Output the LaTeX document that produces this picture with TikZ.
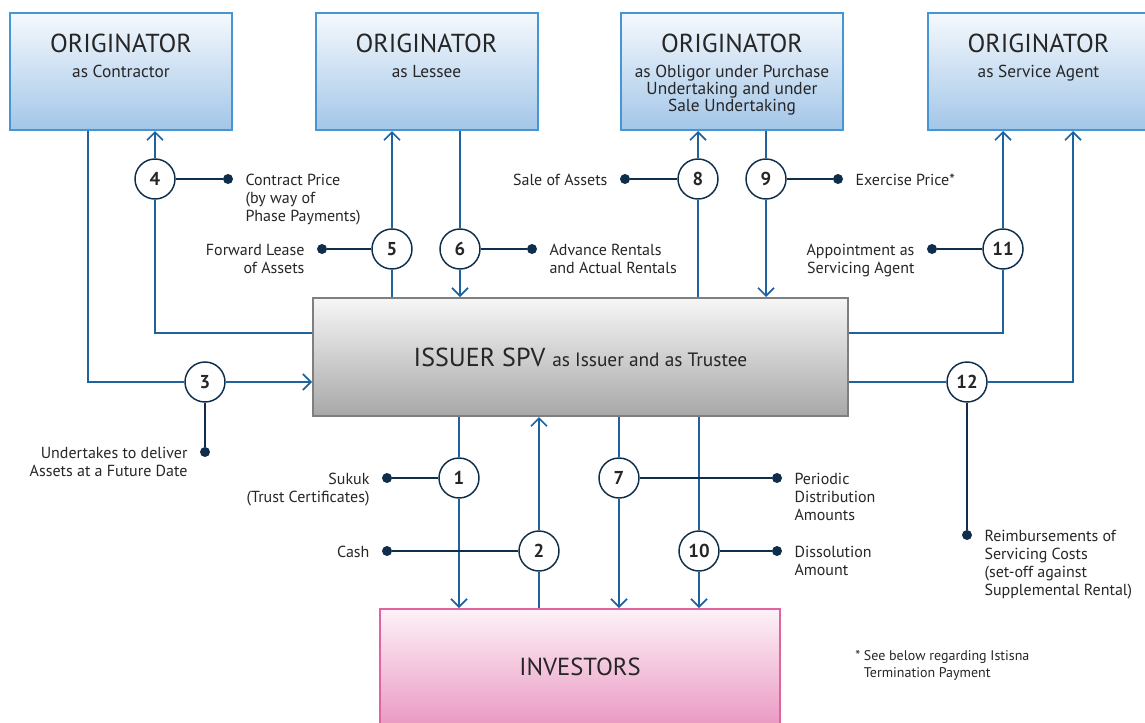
\documentclass[tikz,border=0pt]{standalone}
\usepackage{fontspec}
\setmainfont{PT Sans}
\usepackage{xcolor}
\usepackage{tikz}
\usetikzlibrary{positioning, arrows.meta}

\definecolor{origline}{HTML}{4696D6}
\definecolor{origtop}{HTML}{F5F9FD}
\definecolor{origbot}{HTML}{A3C6E8}
\definecolor{spvline}{HTML}{7F7F7F}
\definecolor{spvtop}{HTML}{F6F6F6}
\definecolor{spvbot}{HTML}{A8A8A8}
\definecolor{invline}{HTML}{E0649F}
\definecolor{invtop}{HTML}{FDF1F7}
\definecolor{invbot}{HTML}{EA9AC3}
\definecolor{flowblue}{HTML}{1E63A0}
\definecolor{calldark}{HTML}{0F2E4C}
\definecolor{txtgray}{HTML}{262626}

\newcommand{\lblsize}{\fontsize{12}{13.5}\selectfont}

\begin{document}
\begin{tikzpicture}[x=0.75pt, y=-0.75pt,
    origbox/.style={draw=origline, line width=1.5pt, top color=origtop, bottom color=origbot,
        minimum width=166.5pt, minimum height=87.75pt, inner sep=0pt},
    spvbox/.style={draw=spvline, line width=1.5pt, top color=spvtop, bottom color=spvbot,
        minimum width=401pt, minimum height=88.5pt, text=txtgray},
    invbox/.style={draw=invline, line width=1.5pt, top color=invtop, bottom color=invbot,
        minimum width=300pt, minimum height=87pt, text=txtgray,
        font=\fontsize{18.5}{20}\selectfont},
    ttl/.style={inner sep=0pt, text=txtgray, font=\fontsize{19.5}{21}\selectfont},
    sub/.style={inner sep=0pt, text=txtgray, align=center, font=\fontsize{13}{12.75}\selectfont},
    num/.style={circle, draw=calldark, line width=1.1pt, fill=white, minimum size=30pt,
        inner sep=0pt, text=txtgray, font=\fontsize{14}{14}\selectfont\bfseries},
    dot/.style={circle, fill=calldark, minimum size=7.5pt, inner sep=0pt},
    flow/.style={draw=flowblue, line width=1.3pt},
    tip/.style={-{Straight Barb[length=6pt, width=12pt]}},
    call/.style={draw=calldark, line width=1.1pt},
    lblR/.style={anchor=north west, yshift=4pt, inner sep=0pt, align=left, text=txtgray, font=\lblsize},
    lblL/.style={anchor=north east, yshift=4pt, inner sep=0pt, align=right, text=txtgray, font=\lblsize}
]
\useasboundingbox (0,0) rectangle (1145,722);

% parties
\node[origbox] (orgA) at (121,71.5) {};
\node[origbox] (orgB) at (426.5,71.5) {};
\node[origbox] (orgC) at (732,71.5) {};
\node[origbox] (orgD) at (1038.5,71.5) {};
\node[spvbox] (spv) at (580.5,357)
    {\fontsize{19.5}{21}\selectfont ISSUER SPV {\fontsize{14.5}{16}\selectfont as Issuer and as Trustee}};
\node[invbox] (inv) at (580,667) {INVESTORS};

\foreach \b in {A,B,C,D}
    \node[ttl, below=16pt of org\b.north] (t\b) {ORIGINATOR};
\node[sub, below=9pt of tA] (sA) {as Contractor};
\node[sub, below=9pt of tB] (sB) {as Lessee};
\node[sub, below=9pt of tC] (sC) {as Obligor under Purchase\\Undertaking and under\\Sale Undertaking};
\node[sub, below=9pt of tD] (sD) {as Service Agent};

% numbered steps
\node[num] (n1) at (459,478) {1};
\node[num] (n2) at (539,551) {2};
\node[num] (n3) at (205,382) {3};
\node[num] (n4) at (155,179) {4};
\node[num] (n5) at (392,249) {5};
\node[num] (n6) at (460,249) {6};
\node[num] (n7) at (619,478) {7};
\node[num] (n8) at (698,179) {8};
\node[num] (n9) at (766,179) {9};
\node[num] (n10) at (699,551) {10};
\node[num] (n11) at (1003,249) {11};
\node[num] (n12) at (967,382) {12};

\node[dot] (d1) at (387,478) {};
\node[dot] (d2) at (387,551) {};
\node[dot] (d3) at (205,452) {};
\node[dot] (d4) at (228,179) {};
\node[dot] (d5) at (322,249) {};
\node[dot] (d6) at (532,249) {};
\node[dot] (d7) at (777,478) {};
\node[dot] (d8) at (625,179) {};
\node[dot] (d9) at (838,179) {};
\node[dot] (d10) at (777,551) {};
\node[dot] (d11) at (932,249) {};
\node[dot] (d12) at (967,535) {};

\coordinate (j3) at (88,382);
\coordinate (j4) at (155,333);
\coordinate (j11) at (1003,333);
\coordinate (j12) at (1073,382);

% flows
\draw[flow] (orgA.south -| j3) |- (n3);
\draw[flow, tip] (n3) -- (spv.west |- n3);
\draw[flow] (spv.west |- j4) -- (j4) -- (n4);
\draw[flow, tip] (n4) -- (orgA.south -| n4);
\draw[flow] (spv.north -| n5) -- (n5);
\draw[flow, tip] (n5) -- (orgB.south -| n5);
\draw[flow] (orgB.south -| n6) -- (n6);
\draw[flow, tip] (n6) -- (spv.north -| n6);
\draw[flow] (spv.north -| n8) -- (n8);
\draw[flow, tip] (n8) -- (orgC.south -| n8);
\draw[flow] (orgC.south -| n9) -- (n9);
\draw[flow, tip] (n9) -- (spv.north -| n9);
\draw[flow] (spv.east |- j11) -- (j11) -- (n11);
\draw[flow, tip] (n11) -- (orgD.south -| n11);
\draw[flow] (spv.east |- n12) -- (n12);
\draw[flow, tip] (n12) -- (j12) -- (orgD.south -| j12);
\draw[flow] (spv.south -| n1) -- (n1);
\draw[flow, tip] (n1) -- (inv.north -| n1);
\draw[flow] (inv.north -| n2) -- (n2);
\draw[flow, tip] (n2) -- (spv.south -| n2);
\draw[flow] (spv.south -| n7) -- (n7);
\draw[flow, tip] (n7) -- (inv.north -| n7);
\draw[flow] (spv.south -| n10) -- (n10);
\draw[flow, tip] (n10) -- (inv.north -| n10);

% callouts
\foreach \k in {1,...,12}
    \draw[call] (n\k) -- (d\k);

\node[left=9pt of d1, lblL] (l1) {Sukuk\\(Trust Certificates)};
\node[left=9pt of d2, lblL] (l2) {Cash};
\node[left=9pt of d3, lblL] (l3) {Undertakes to deliver\\Assets at a Future Date};
\node[right=9pt of d4, lblR] (l4) {Contract Price\\(by way of\\Phase Payments)};
\node[left=9pt of d5, lblL] (l5) {Forward Lease\\of Assets};
\node[right=9pt of d6, lblR] (l6) {Advance Rentals\\and Actual Rentals};
\node[right=9pt of d7, lblR] (l7) {Periodic\\Distribution\\Amounts};
\node[left=9pt of d8, lblL] (l8) {Sale of Assets};
\node[right=9pt of d9, lblR] (l9) {Exercise Price*};
\node[right=9pt of d10, lblR] (l10) {Dissolution\\Amount};
\node[left=9pt of d11, lblL] (l11) {Appointment as\\Servicing Agent};
\node[right=9pt of d12, lblR] (l12) {Reimbursements of\\Servicing Costs\\(set-off against\\Supplemental Rental)};

\node[anchor=north west, inner sep=0pt, align=left, text=txtgray,
    font=\fontsize{10.5}{13}\selectfont] (fn) at (855,650)
    {* See below regarding Istisna\\\phantom{* }Termination Payment};
\end{tikzpicture}
\end{document}
